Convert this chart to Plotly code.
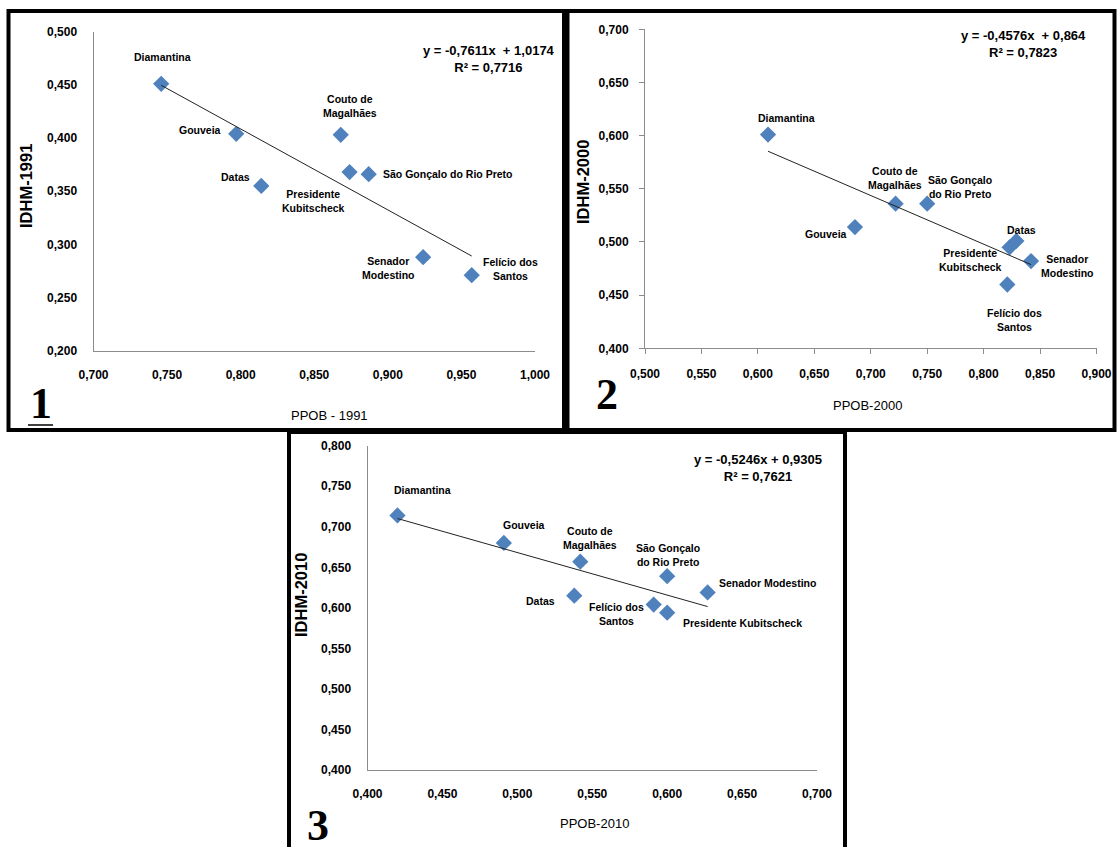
import plotly.graph_objects as go

W, H = 1117, 847

names = ["Diamantina", "Gouveia", "Couto de Magalhães", "Presidente Kubitscheck",
         "São Gonçalo do Rio Preto", "Datas", "Senador Modestino", "Felício dos Santos"]

ppob_1991 = [0.746, 0.797, 0.868, 0.874, 0.887, 0.814, 0.924, 0.957]
idhm_1991 = [0.451, 0.404, 0.403, 0.368, 0.366, 0.355, 0.288, 0.271]

ppob_2000 = [0.609, 0.686, 0.722, 0.823, 0.750, 0.829, 0.842, 0.821]
idhm_2000 = [0.601, 0.514, 0.536, 0.495, 0.536, 0.501, 0.482, 0.460]

ppob_2010 = [0.420, 0.491, 0.542, 0.600, 0.600, 0.538, 0.627, 0.591]
idhm_2010 = [0.714, 0.680, 0.657, 0.594, 0.639, 0.615, 0.619, 0.604]

# regression coefficients shown on each chart
slopes = [-0.7611, -0.4576, -0.5246]
intercepts = [1.0174, 0.864, 0.9305]
eq_texts = ["y = -0,7611x  + 1,0174<br>R² = 0,7716",
            "y = -0,4576x  + 0,864<br>R² = 0,7823",
            "y = -0,5246x + 0,9305<br>R² = 0,7621"]
x_titles = ["PPOB - 1991", "PPOB-2000", "PPOB-2010"]
y_titles = ["IDHM-1991", "IDHM-2000", "IDHM-2010"]
panel_nums = ["1", "2", "3"]

# label texts per panel
labels = [
    ["Diamantina", "Gouveia", "Couto de<br>Magalhães", "Presidente<br>Kubitscheck",
     "São Gonçalo do Rio Preto", "Datas", "Senador<br>Modestino", "Felício dos<br>Santos"],
    ["Diamantina", "Gouveia", "Couto de<br>Magalhães", "Presidente<br>Kubitscheck",
     "São Gonçalo<br>do Rio Preto", "Datas", "Senador<br>Modestino", "Felício dos<br>Santos"],
    ["Diamantina", "Gouveia", "Couto de<br>Magalhães", "Presidente Kubitscheck",
     "São Gonçalo<br>do Rio Preto", "Datas", "Senador Modestino", "Felício dos<br>Santos"],
]
# label placement (dx px, dy px downward, anchor)
label_pos = [
    [(1, -27, "center"), (-13, -4, "right"), (9, -29, "center"), (-36, 29, "center"),
     (12, 0, "left"), (-9, -9, "right"), (-35, 11, "center"), (39, -6, "center")],
    [(18, -17, "center"), (-29, 7, "center"), (-1, -26, "center"), (-39, 13, "center"),
     (33, -17, "center"), (5, -11, "center"), (36, 5, "center"), (7, 35, "center")],
    [(25, -25, "center"), (20, -18, "center"), (10, -24, "center"), (14, 10, "left"),
     (1, -21, "center"), (-17, 5, "right"), (9, -9, "left"), (-37, 9, "center")],
]

xs = [ppob_1991, ppob_2000, ppob_2010]
ys = [idhm_1991, idhm_2000, idhm_2010]

# plot-area pixel boxes: (left, right, top, bottom)
boxes = [(93.5, 535, 31.7, 350.7), (645, 1096.5, 29.3, 348.3), (367.5, 817, 445.7, 770)]
xranges = [[0.7, 1.0], [0.5, 0.9], [0.4, 0.7]]
yranges = [[0.2, 0.5], [0.4, 0.7], [0.4, 0.8]]
ticks_on = [False, True, False]

SANS = "Liberation Sans, Arial, sans-serif"
SERIF = "Liberation Serif, Times New Roman, serif"

fig = go.Figure()
annotations = []
shapes = []

def px(xp):
    return xp / W

def py(yp):
    return 1 - yp / H

for i in range(3):
    sfx = "" if i == 0 else str(i + 1)
    xa, ya = "x" + sfx, "y" + sfx
    fig.add_trace(go.Scatter(
        x=xs[i], y=ys[i], mode="markers", xaxis=xa, yaxis=ya,
        marker=dict(symbol="diamond", size=12.5, color="#4F81BD", line=dict(width=0)),
        showlegend=False, hoverinfo="x+y"))
    x0, x1 = min(xs[i]), max(xs[i])
    fig.add_trace(go.Scatter(
        x=[x0, x1], y=[slopes[i] * x0 + intercepts[i], slopes[i] * x1 + intercepts[i]],
        mode="lines", xaxis=xa, yaxis=ya, line=dict(color="#222222", width=1),
        showlegend=False, hoverinfo="skip"))
    l, r, t, b = boxes[i]
    axcommon = dict(showgrid=False, zeroline=False, showline=True, linecolor="#8C8C8C",
                    linewidth=1, tickformat=".3f", dtick=0.05, automargin=False,
                    tickfont=dict(family=SANS, size=12, color="black", weight="bold"),
                    ticks="outside" if ticks_on[i] else "", ticklen=5, tickcolor="#8C8C8C")
    fig.update_layout(**{
        "xaxis" + sfx: dict(domain=[px(l), px(r)], range=xranges[i], anchor=ya,
                            ticklabelstandoff=13 if not ticks_on[i] else 9, **axcommon),
        "yaxis" + sfx: dict(domain=[py(b), py(t)], range=yranges[i], anchor=xa,
                            ticklabelstandoff=13 if not ticks_on[i] else 8, **axcommon),
    })
    for j in range(len(names)):
        dx, dy, anc = label_pos[i][j]
        annotations.append(dict(
            x=xs[i][j], y=ys[i][j], xref=xa, yref=ya, text=labels[i][j], showarrow=False,
            xshift=dx, yshift=-dy, xanchor=anc, yanchor="middle", align="center",
            font=dict(family=SANS, size=10.5, color="black", weight="bold")))

# equations
eq_pos = [(489, 58.5), (1023, 44), (758, 468)]
for i in range(3):
    annotations.append(dict(
        x=px(eq_pos[i][0]), y=py(eq_pos[i][1]), xref="paper", yref="paper",
        text=eq_texts[i], showarrow=False, xanchor="center", yanchor="middle", align="center",
        font=dict(family=SANS, size=13, color="black", weight="bold")))

# axis titles
xt_pos = [(329, 415), (867, 405), (594, 823)]
yt_pos = [(26, 186), (583, 182), (301, 595)]
for i in range(3):
    annotations.append(dict(
        x=px(xt_pos[i][0]), y=py(xt_pos[i][1]), xref="paper", yref="paper",
        text=x_titles[i], showarrow=False, xanchor="center", yanchor="middle",
        font=dict(family=SANS, size=13, color="black")))
    annotations.append(dict(
        x=px(yt_pos[i][0]), y=py(yt_pos[i][1]), xref="paper", yref="paper",
        text=y_titles[i], showarrow=False, xanchor="center", yanchor="middle", textangle=-90,
        font=dict(family=SANS, size=16.5, color="black", weight="bold")))

# panel numbers
pn_pos = [(41, 403), (607, 394), (318, 825)]
for i in range(3):
    annotations.append(dict(
        x=px(pn_pos[i][0]), y=py(pn_pos[i][1]), xref="paper", yref="paper",
        text=panel_nums[i], showarrow=False, xanchor="center", yanchor="middle",
        font=dict(family=SERIF, size=44, color="black", weight="bold")))
shapes.append(dict(type="line", xref="paper", yref="paper", x0=px(28), x1=px(53),
                   y0=py(425), y1=py(425), line=dict(color="black", width=1.5)))

# panel frames
frames = [(8.5, 564, 11, 430), (567.5, 1114.5, 11, 430), (289, 845, 432, 852)]
for (l, r, t, b) in frames:
    shapes.append(dict(type="rect", xref="paper", yref="paper", x0=px(l), x1=px(r),
                       y0=py(b), y1=py(t), line=dict(color="black", width=4),
                       fillcolor="rgba(0,0,0,0)", layer="above"))

fig.update_layout(
    template="none",
    width=W, height=H, margin=dict(l=0, r=0, t=0, b=0, pad=0, autoexpand=False),
    paper_bgcolor="white", plot_bgcolor="white",
    separators=",.", annotations=annotations, shapes=shapes, showlegend=False)

fig.write_html(
    "out.html",
    config={"displayModeBar": False},
    post_script="document.body.style.margin='0';document.body.style.overflow='hidden';")
